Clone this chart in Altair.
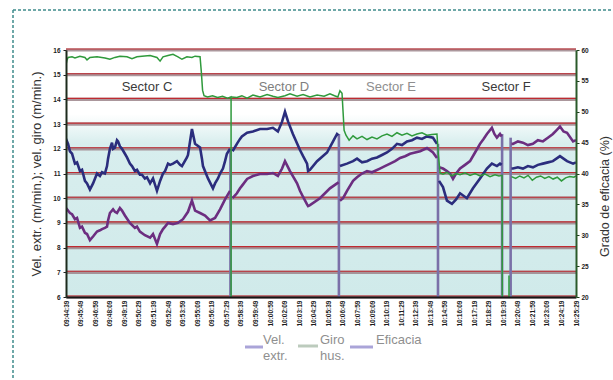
import altair as alt
import pandas as pd

# ---- time axis (seconds since first sample) ----
tick_labels = [
    "09:44:39", "09:45:49", "09:46:59", "09:48:09", "09:49:19", "09:50:29",
    "09:51:39", "09:52:49", "09:53:59", "09:55:09", "09:56:19", "09:57:29",
    "09:58:39", "09:59:49", "10:00:59", "10:02:09", "10:03:19", "10:04:29",
    "10:05:39", "10:06:49", "10:07:59", "10:09:09", "10:10:19", "10:11:29",
    "10:12:39", "10:13:49", "10:14:59", "10:16:09", "10:17:19", "10:18:29",
    "10:19:39", "10:20:49", "10:21:59", "10:23:09", "10:24:19", "10:25:29",
]
tick_step = 70
tick_seconds = [k * tick_step for k in range(len(tick_labels))]

# ---- extrusion speed (m/min), one list per sector run ----
vel_extr_t = [
    [0, 5, 10, 19, 29, 43, 53, 67, 77, 91, 101, 115, 130, 149, 163, 173, 187, 197, 202, 211,
     221, 226, 235, 245, 250, 259, 269, 283, 293, 307, 317, 331, 341, 355, 365, 379, 389, 404,
     418, 437, 452, 466, 476, 490, 500, 514, 533, 548, 557, 581, 586, 605, 620, 644, 653, 658,
     682, 706, 716, 730, 740, 754, 764, 773, 788],
    [800, 821, 836, 845, 870, 898, 932, 966, 994, 1018, 1038, 1052, 1067, 1090, 1124, 1139,
     1158, 1163, 1172, 1206, 1254, 1283, 1302, 1309],
    [1316, 1350, 1379, 1398, 1422, 1446, 1470, 1494, 1518, 1542, 1566, 1590, 1614, 1638, 1662,
     1686, 1710, 1734, 1763, 1782],
    [1792, 1811, 1830, 1854, 1874, 1893, 1926, 1955, 1989, 2022, 2046, 2070, 2085, 2093],
    [2140, 2147, 2171, 2195, 2219, 2243, 2267, 2291, 2315, 2339, 2373, 2390, 2407, 2436, 2450],
]
vel_extr_v = [
    [12.15, 12.3, 12.2, 11.9, 11.8, 11.4, 11.45, 11.1, 11.15, 10.7, 10.6, 10.35, 10.6, 11.0,
     10.9, 11.05, 11.0, 11.3, 11.6, 12.0, 12.25, 12.0, 12.05, 12.35, 12.3, 12.1, 12.0, 11.8,
     11.65, 11.4, 11.3, 11.1, 11.15, 10.95, 10.95, 10.8, 10.85, 10.6, 10.8, 10.3, 10.7, 11.0,
     11.1, 11.4, 11.35, 11.4, 11.5, 11.35, 11.3, 11.65, 11.75, 12.8, 12.2, 12.05, 11.6, 11.3,
     10.8, 10.4, 10.6, 10.8, 11.0, 11.2, 11.5, 11.8, 12.0],
    [11.9, 12.2, 12.4, 12.5, 12.65, 12.7, 12.8, 12.8, 12.85, 12.7, 13.1, 13.5, 13.1, 12.6,
     11.95, 11.7, 11.4, 11.1, 11.15, 11.5, 11.85, 12.3, 12.6, 12.55],
    [11.3, 11.4, 11.5, 11.6, 11.45, 11.5, 11.6, 11.65, 11.75, 11.85, 12.0, 12.2, 12.15, 12.3,
     12.35, 12.45, 12.4, 12.5, 12.45, 12.2],
    [10.7, 10.45, 9.9, 9.77, 9.95, 10.2, 10.0, 10.4, 10.8, 11.2, 11.4, 11.3, 11.4, 11.35],
    [11.2, 11.2, 11.25, 11.2, 11.3, 11.25, 11.35, 11.4, 11.45, 11.5, 11.7, 11.6, 11.5, 11.4,
     11.45],
]

# ---- spindle speed (m/min) ----
vel_giro_t = [
    [0, 5, 19, 29, 43, 53, 67, 77, 91, 101, 115, 130, 149, 163, 173, 187, 197, 202, 211, 226,
     235, 245, 259, 269, 283, 307, 331, 341, 355, 379, 404, 418, 437, 452, 466, 476, 490, 514,
     538, 562, 586, 605, 620, 644, 668, 692, 716, 740, 764, 788],
    [800, 821, 836, 845, 870, 898, 932, 966, 994, 1018, 1038, 1052, 1067, 1076, 1110, 1124,
     1139, 1158, 1163, 1172, 1220, 1268, 1302, 1309],
    [1316, 1331, 1350, 1379, 1398, 1422, 1446, 1470, 1508, 1532, 1557, 1581, 1605, 1629, 1653,
     1677, 1701, 1734, 1763, 1782],
    [1792, 1811, 1830, 1845, 1859, 1874, 1893, 1917, 1941, 1965, 1989, 2006, 2022, 2046, 2058,
     2070, 2085, 2093],
    [2140, 2147, 2171, 2195, 2219, 2243, 2267, 2291, 2315, 2339, 2356, 2373, 2390, 2407, 2436,
     2450],
]
vel_giro_v = [
    [9.6, 9.55, 9.4, 9.35, 9.15, 9.2, 8.8, 8.85, 8.6, 8.55, 8.3, 8.45, 8.65, 8.7, 8.75, 8.8,
     8.85, 9.1, 9.4, 9.55, 9.45, 9.4, 9.6, 9.5, 9.3, 9.0, 8.8, 8.85, 8.65, 8.5, 8.4, 8.55,
     8.15, 8.55, 8.75, 8.85, 9.0, 8.95, 9.0, 9.15, 9.45, 9.9, 9.5, 9.4, 9.3, 9.1, 9.2, 9.55,
     9.95, 10.3],
    [10.0, 10.2, 10.4, 10.5, 10.78, 10.9, 10.98, 10.98, 11.02, 10.9, 11.2, 11.5, 11.25, 11.1,
     10.6, 10.3, 10.05, 9.75, 9.68, 9.72, 10.0, 10.4, 10.6, 10.65],
    [9.9, 10.0, 10.3, 10.7, 10.85, 11.0, 11.1, 11.05, 11.2, 11.3, 11.4, 11.5, 11.63, 11.7,
     11.8, 11.85, 11.9, 12.03, 11.85, 11.63],
    [11.25, 11.2, 11.1, 11.0, 10.78, 11.0, 11.2, 11.35, 11.5, 11.85, 12.2, 12.4, 12.6, 12.85,
     12.6, 12.45, 12.6, 12.5],
    [12.2, 12.2, 12.3, 12.25, 12.15, 12.2, 12.35, 12.3, 12.45, 12.6, 12.75, 12.9, 12.7, 12.65,
     12.3, 12.35],
]

# ---- efficiency (%) ----
eficacia_t = [
    [0, 5, 10, 29, 43, 67, 91, 101, 115, 149, 187, 211, 235, 259, 293, 317, 341, 365, 404,
     437, 452, 466, 490, 514, 538, 557, 581, 605, 620, 644, 650, 656, 663, 680, 704, 728, 752,
     776, 793, 793],
    [795, 821, 845, 870, 898, 932, 966, 994, 1018, 1052, 1076, 1110, 1139, 1172, 1206, 1240,
     1268, 1290, 1306, 1316, 1326, 1331, 1336, 1345, 1360, 1379, 1398, 1422, 1446, 1470, 1494,
     1518, 1542, 1566, 1590, 1614, 1638, 1662, 1686, 1710, 1734, 1758, 1782, 1789, 1797, 1811,
     1830, 1854, 1874, 1893, 1917, 1941, 1965, 1989, 2013, 2037, 2061, 2080, 2095, 2097],
    [2128, 2128],
    [2140, 2160, 2180, 2200, 2220, 2240, 2260, 2280, 2300, 2320, 2340, 2360, 2380, 2400, 2420,
     2440, 2450],
]
eficacia_v = [
    [57.6, 58.4, 58.8, 58.9, 58.7, 59.0, 58.8, 58.4, 58.8, 58.9, 58.7, 58.5, 58.8, 59.0, 58.9,
     58.6, 58.9, 59.0, 59.1, 58.8, 58.2, 58.9, 59.1, 59.3, 58.9, 58.5, 58.9, 58.8, 59.0, 58.9,
     56.5, 53.5, 52.6, 52.4, 52.6, 52.3, 52.5, 52.2, 52.4, 0],
    [52.4, 52.3, 52.6, 52.2, 52.7, 52.4, 52.8, 52.5, 52.3, 52.6, 52.9, 52.5, 52.8, 52.4, 52.7,
     52.5, 52.9, 52.6, 52.4, 53.4, 53.0, 50.0, 47.0, 46.2, 45.4, 46.1, 45.6, 46.0, 45.5, 45.9,
     45.6, 46.1, 46.4, 46.0, 46.6, 46.2, 46.5, 46.1, 46.4, 46.6, 46.2, 46.3, 46.4, 43.0, 40.1,
     39.9, 40.2, 39.6, 40.0, 39.8, 40.1, 39.7, 40.0, 39.6, 39.9, 39.5, 39.8, 39.6, 39.7, 0],
    [0, 23.5],
    [39.5, 39.2, 39.6, 39.3, 39.7, 38.9, 39.4, 39.6, 39.2, 39.5, 39.1, 39.4, 38.8, 39.3, 39.5,
     39.4, 39.6],
]

# ---- sector changes: drop of both speed traces ----
change_t = [790, 1311, 1787, 2095, 2136]
change_top = [12.0, 12.6, 12.2, 12.6, 12.45]

# ---- sector names ----
sector_names = ["Sector C", "Sector D", "Sector E", "Sector F"]
sector_t = [389, 1047, 1561, 2114]
sector_level = 14.5

grid_values = list(range(6, 17))
right_ticks = [20, 25, 30, 35, 40, 45, 50, 55, 60]

FONT = "Liberation Sans"


def to_rows(name, t_segs, v_segs):
    rows = []
    for k, (ts, vs) in enumerate(zip(t_segs, v_segs)):
        for t, v in zip(ts, vs):
            rows.append({"series": name, "seg": f"{name}-{k}", "t": t, "v": v})
    return rows


speed = pd.DataFrame(to_rows("Vel. giro", vel_giro_t, vel_giro_v)
                     + to_rows("Vel. extr.", vel_extr_t, vel_extr_v))
speed["i"] = range(len(speed))
eff = pd.DataFrame(to_rows("Eficacia", eficacia_t, eficacia_v))
eff["i"] = range(len(eff))
changes = pd.DataFrame({"t": change_t, "top": change_top})
sectors = pd.DataFrame({"name": sector_names, "t": sector_t, "y": [sector_level] * 4})
grid = pd.DataFrame({"g": grid_values, "t0": [0] * 11, "t1": [tick_seconds[-1]] * 11})
band = pd.DataFrame({"t0": [0], "t1": [tick_seconds[-1]], "lo": [6], "hi": [13.4]})

x_scale = alt.Scale(domain=[0, tick_seconds[-1]], nice=False, zero=False)
y_left = alt.Scale(domain=[6, 16], nice=False, zero=False)
y_right = alt.Scale(domain=[20, 60], nice=False, zero=False)

label_array = "[" + ",".join(f"'{s}'" for s in tick_labels) + "]"
x_axis = alt.Axis(
    values=tick_seconds,
    labelExpr=f"{label_array}[round(datum.value / {tick_step})]",
    labelAngle=270, labelFontSize=6.5, labelFontWeight="bold", labelColor="#1c1c1c",
    labelPadding=3, labelOverlap=False, labelBound=False, labelFlush=False,
    ticks=False, domainColor="#151515", domainWidth=2, grid=False, title=None, zindex=2,
)
left_axis = alt.Axis(
    values=grid_values, labelFontSize=6.5, labelFontWeight="bold", labelColor="#1c1c1c",
    tickSize=3, tickColor="#222", labelPadding=3, domainColor="#1d2b1d", domainWidth=2,
    grid=False, zindex=2,
    title="Vel. extr. (m/min.); vel. giro (m/min.)", titleFontSize=13,
    titleFontWeight="normal", titleColor="#333333", titleAngle=270, titleX=-30,
    titleY=123.5, titleAlign="center", titleBaseline="middle",
)
right_axis = alt.Axis(
    orient="right", values=right_ticks, labelFontSize=6.5, labelFontWeight="bold",
    labelColor="#1c1c1c", tickSize=3, tickColor="#1d3d1d", labelPadding=2,
    domainColor="#2a5a2a", domainWidth=2, grid=False, zindex=2,
    title="Grado de eficacia (%)", titleFontSize=12.5, titleFontWeight="normal",
    titleColor="#333333", titleAngle=270, titleX=28, titleY=146,
    titleAlign="center", titleBaseline="middle",
)

X = lambda f: alt.X(f, scale=x_scale, axis=x_axis)
YL = lambda f: alt.Y(f, scale=y_left, axis=left_axis)

# light cyan backdrop fading to white near the top
backdrop = alt.Chart(band).mark_rect(
    fill=alt.LinearGradient(
        gradient="linear", x1=0, x2=0, y1=0, y2=1,
        stops=[alt.GradientStop(color="#ffffff", offset=0),
               alt.GradientStop(color="#d8eeee", offset=0.16),
               alt.GradientStop(color="#d0eaea", offset=1)],
    ),
    stroke=None,
).encode(x=X("t0:Q"), x2="t1", y=YL("hi:Q"), y2="lo")

grid_shadow = alt.Chart(grid).mark_rule(color="#9c858b", strokeWidth=3.2, opacity=0.85).encode(
    x=X("t0:Q"), x2="t1", y=YL("g:Q")
)
grid_red = alt.Chart(grid).mark_rule(color="#bf2a31", strokeWidth=1.1, yOffset=-1).encode(
    x=X("t0:Q"), x2="t1", y=YL("g:Q")
)

change_rules = alt.Chart(changes).mark_rule(color="#7a70a8", strokeWidth=2.6).encode(
    x=X("t:Q"), y=YL("top:Q"), y2=alt.Y2Datum(6),
)

speed_lines = alt.Chart(speed).mark_line(strokeWidth=2.6, clip=True).encode(
    x=X("t:Q"),
    y=YL("v:Q"),
    detail="seg:N",
    order="i:Q",
    color=alt.Color("series:N", legend=None,
                    scale=alt.Scale(domain=["Vel. giro", "Vel. extr."],
                                    range=["#6c2e80", "#2b2d7d"])),
)

sector_text = alt.Chart(sectors).mark_text(
    font=FONT, fontSize=13, baseline="middle", align="center"
).encode(
    x=X("t:Q"),
    y=YL("y:Q"),
    text="name:N",
    color=alt.Color("name:N", legend=None,
                    scale=alt.Scale(domain=sector_names,
                                    range=["#3a3a3a", "#7e7e7e", "#8e8e8e", "#3a3a3a"])),
)

left = alt.layer(
    backdrop, grid_shadow, grid_red, change_rules, speed_lines, sector_text
).resolve_scale(color="independent")

eff_line = alt.Chart(eff).mark_line(strokeWidth=1.5, clip=True, color="#2f9a3c").encode(
    x=X("t:Q"),
    y=alt.Y("v:Q", scale=y_right, axis=right_axis),
    detail="seg:N",
    order="i:Q",
)

# hand-drawn legend below the plot
one = alt.Data(values=[{}])
legend_parts = [
    alt.Chart(one).mark_rule(color="#aaa4d8", strokeWidth=3).encode(
        x=alt.value(179), x2=alt.value(197), y=alt.value(297)),
    alt.Chart(one).mark_rule(color="#bccbbd", strokeWidth=3).encode(
        x=alt.value(232), x2=alt.value(252), y=alt.value(296)),
    alt.Chart(one).mark_rule(color="#aaa4d8", strokeWidth=3).encode(
        x=alt.value(284), x2=alt.value(307), y=alt.value(297)),
    alt.Chart(one).mark_text(text=["Vel.", "extr."], font=FONT, fontSize=13, lineHeight=16,
                             color="#8f8f8f", align="left", baseline="top").encode(
        x=alt.value(197), y=alt.value(284)),
    alt.Chart(one).mark_text(text=["Giro", "hus."], font=FONT, fontSize=13, lineHeight=16,
                             color="#8f8f8f", align="left", baseline="top").encode(
        x=alt.value(254), y=alt.value(284)),
    alt.Chart(one).mark_text(text="Eficacia", font=FONT, fontSize=13,
                             color="#8f8f8f", align="left", baseline="top").encode(
        x=alt.value(310), y=alt.value(284)),
]

# dashed frame around the figure
frame = [
    alt.Chart(one).mark_rule(color="#3f8c8c", strokeWidth=1.5, strokeDash=[3, 2]).encode(
        x=alt.value(-53), x2=alt.value(547), y=alt.value(-40)),
    alt.Chart(one).mark_rule(color="#3f8c8c", strokeWidth=1.5, strokeDash=[3, 2]).encode(
        x=alt.value(-53), y=alt.value(-40), y2=alt.value(330)),
]

chart = alt.layer(left, eff_line, *legend_parts, *frame).resolve_scale(
    y="independent"
).properties(
    width=510, height=247,
    autosize=alt.AutoSizeParams(type="none"),
    padding={"left": 66, "top": 50, "right": 37, "bottom": 83},
    background="#ffffff",
).configure_view(stroke=None).configure_axis(labelFont=FONT, titleFont=FONT)

chart.save("out.html", embed_options={"renderer": "svg", "actions": False})
